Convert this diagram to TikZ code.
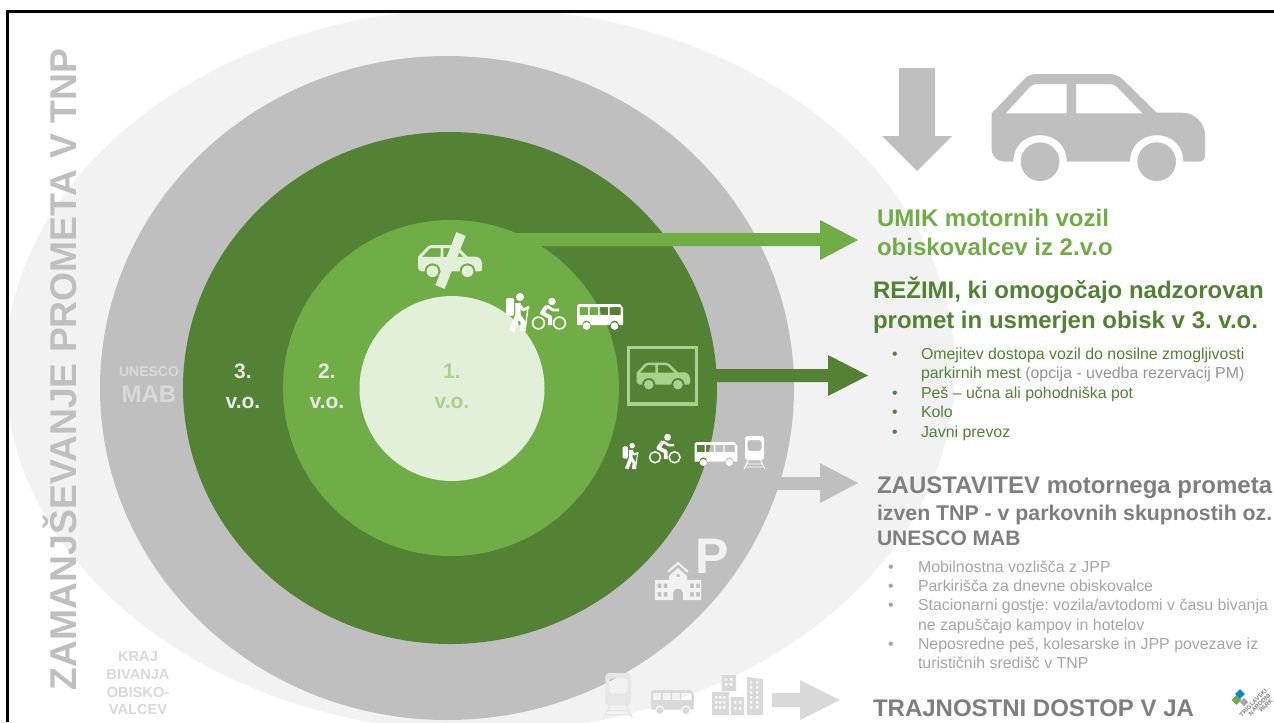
\documentclass[tikz,border=0pt]{standalone}
\usepackage{fontspec}
\setmainfont{Liberation Sans}
\frenchspacing
\definecolor{gdark}{HTML}{548235}
\definecolor{gmid}{HTML}{70AD47}
\definecolor{glight}{HTML}{E2F0D9}
\definecolor{gsoft}{HTML}{A9D18E}
\definecolor{grayring}{HTML}{BFBFBF}
\definecolor{graypale}{HTML}{F2F2F2}
\definecolor{grayicon}{HTML}{D9D9D9}
\definecolor{graylabel}{HTML}{E7E6E6}
\definecolor{graytext}{HTML}{7F7F7F}
\definecolor{graybul}{HTML}{A6A6A6}
\newcommand{\px}[1]{\fontsize{\dimexpr #1pt*3/4\relax}{\dimexpr #1pt*9/10\relax}\selectfont}
\tikzset{
  lbl/.style={inner sep=0pt,outer sep=0pt,anchor=base west},
  ctr/.style={inner sep=0pt,outer sep=0pt,anchor=base,align=center},
  hd/.style={lbl,font=\bfseries},
}
\newcommand{\mycar}[3]{\begin{scope}[shift={(#1)},scale=#2/3]
 \fill[#3,even odd rule]
  (0,118)--(100,13) .. controls (110,4) and (120,0) .. (135,0)--(350,0) .. controls (365,0) and (380,4) .. (392,15)--(495,116)--(570,116) .. controls (612,116) and (640,150) .. (640,183)--(640,245) .. controls (640,258) and (630,263) .. (618,263)--(575,263)
  .. controls (575,157) and (415,157) .. (415,263)--(225,263) .. controls (225,157) and (65,157) .. (65,263)--(40,263) .. controls (15,263) and (0,245) .. (0,228)--cycle
  (42,118)--(115,38) .. controls (122,32) and (128,30) .. (135,30)--(225,30)--(225,118)--cycle
  (253,30)--(350,30) .. controls (360,30) and (368,32) .. (375,38)--(453,118)--(253,118)--cycle;
 \fill[#3] (145,263) circle[radius=58] (495,263) circle[radius=58];
\end{scope}}
\newcommand{\mybus}[3]{\begin{scope}[shift={(#1)},scale=#2]
 \fill[#3,even odd rule]
  (0,21)--(0,2)--(2,0)--(43,0)--(46,4)--(46,21)--(42,21) .. controls (42,15) and (33,15) .. (33,21)--(14,21) .. controls (14,15) and (5,15) .. (5,21)--cycle
  (2.5,3) rectangle (11,11) (12.5,3) rectangle (21,11) (22.5,3) rectangle (31,11) (32.5,3) rectangle (43.5,11);
 \fill[#3] (9.5,22) circle[radius=3.8] (37.5,22) circle[radius=3.8];
\end{scope}}
\newcommand{\mytrain}[3]{\begin{scope}[shift={(#1)},scale=#2]
 \fill[#3,even odd rule,rounded corners=#2*2pt] (1,0) rectangle (20,24)
  (3.5,4) rectangle (17.5,15);
 \draw[#3,line width=#2*.7pt] (4.5,24)--(0,33) (16.5,24)--(21,33) (2.5,28)--(18.5,28) (1,31)--(20,31);
\end{scope}}
\newcommand{\mybike}[3]{\begin{scope}[shift={(#1)},scale=#2]
 \draw[#3,line width=#2*1.2pt] (6.5,25) circle[radius=5.9] (27.5,25) circle[radius=5.9];
 \fill[#3] (20,3.5) circle[radius=3.7];
 \draw[#3,line width=#2*3pt,line join=round] (15,8)--(10,15)--(18,19)--(18,27);
 \draw[#3,line width=#2*2pt,line join=round] (15,8)--(21,12)--(27,12);
\end{scope}}
\newcommand{\myhiker}[3]{\begin{scope}[shift={(#1)},scale=#2]
 \fill[#3] (15,4) circle[radius=4];
 \fill[#3,rounded corners=#2*1.5pt] (1,5) rectangle (9,23);
 \draw[#3,line width=#2*4pt,line join=round] (13,10)--(13,22)--(7,38);
 \draw[#3,line width=#2*3.4pt,line join=round] (13,22)--(18,29)--(17,38);
 \draw[#3,line width=#2*2pt,line join=round] (14,11)--(18,17)--(24,14);
 \draw[#3,line width=#2*1.1pt] (23,14)--(20,38);
\end{scope}}
\newcommand{\mycity}[3]{\begin{scope}[shift={(#1)},scale=#2]
 \fill[#3,even odd rule] (0,17) rectangle (17,40)
  \foreach \a in {3,7,11}{\foreach \b in {21,26,31}{(\a,\b) rectangle ++(2.4,2.6)}};
 \fill[#3,even odd rule] (9.5,0) rectangle (24,16)
  \foreach \a in {13,18}{\foreach \b in {3,8}{(\a,\b) rectangle ++(2.4,2.6)}};
 \fill[#3,even odd rule] (18.5,22) rectangle (32,40)
  \foreach \a in {22,27}{\foreach \b in {26,32}{(\a,\b) rectangle ++(2.4,2.6)}};
 \fill[#3,even odd rule] (35,2) -- (51,4) -- (51,40) -- (35,40) -- cycle
  \foreach \a in {38,44}{\foreach \b in {6,11,16,21,26,31}{(\a,\b) rectangle ++(2.4,2.6)}};
\end{scope}}
\newcommand{\myschool}[3]{\begin{scope}[shift={(#1)},scale=#2]
 \draw[#3,line width=#2*1.5pt] (13,10)--(23,1)--(33,10);
 \fill[#3,even odd rule] (0,18) -- (14,18) -- (14,14) -- (23,6) -- (32,14) -- (32,18) -- (46,18) -- (46,38) -- (28,38) -- (28,31) .. controls (28,25) and (18,25) .. (18,31) -- (18,38) -- (0,38) -- cycle
  (21.5,12) rectangle (24.5,15)
  \foreach \a in {2.5,8.5,35,41}{\foreach \b in {21.5,30}{(\a,\b) rectangle ++(3.8,4.5)}};
\end{scope}}
\begin{document}
\begin{tikzpicture}[x=.75pt,y=-.75pt]
\useasboundingbox (0,0) rectangle (1274,722);
\fill[white] (0,0) rectangle (1274,722);
\begin{scope}
 \clip (7,11) rectangle (1274,722);
 \fill[graypale] (480,370) ellipse[x radius=475,y radius=362];
\end{scope}
\fill[grayring] (447,388) ellipse[x radius=347,y radius=332];
\fill[gdark] (450,388) ellipse[x radius=267,y radius=256];
\fill[gmid] (451,388) circle[radius=168];
\fill[glight] (452,388.5) circle[radius=92.5];
% arrows
\fill[gmid] (515,233)--(820,233)--(820,220)--(858,240)--(820,260)--(820,246)--(515,246)--cycle;
\fill[gdark] (716,369)--(828,369)--(828,355)--(868,375.5)--(828,396)--(828,382)--(716,382)--cycle;
\fill[grayring] (775,477)--(820,477)--(820,463)--(858,483)--(820,503)--(820,490)--(775,490)--cycle;
\fill[grayicon] (772,693)--(800,693)--(800,680)--(840,700)--(800,720)--(800,707)--(772,707)--cycle;
\fill[grayring] (899,68)--(935,68)--(935,136)--(952,136)--(917,171)--(882,136)--(899,136)--cycle;
% cars
\mycar{991.7,74}{1}{grayring}
\mycar{418,245}{.3}{glight}
\draw[glight,line width=7.5pt] (461,234)--(440,287);
\draw[gsoft,line width=2.6pt] (628.5,347.5) rectangle (696.5,404);
\mycar{636.7,362.7}{.25}{gsoft}
% icons
\myhiker{505,293}{1}{white}
\mybike{532,298}{1}{white}
\mybus{577,304}{1}{white}
\myhiker{622,443}{.68}{white}
\mybike{649,434}{.93}{white}
\mybus{694.5,442}{.93}{white}
\mytrain{744,436}{1}{white}
\myschool{655,562}{1}{graypale}
\mytrain{604,673}{1.35}{graylabel}
\mybus{651,690}{.93}{grayicon}
\mycity{712,675}{1}{grayicon}
% labels in rings
\node[lbl,font=\bfseries\px{37.3},text=grayring,rotate=90] (title) at (76,690) {ZAMANJŠEVANJE PROMETA V TNP};
\node[ctr,font=\bfseries\px{14},text=grayicon] (unesco) at (149,376) {UNESCO};
\node[ctr,font=\bfseries\px{24},text=grayicon] (mab) at (149,402) {MAB};
\node[ctr,font=\bfseries\px{21},text=graylabel] (v3a) at (243,378) {3.};
\node[ctr,font=\bfseries\px{21},text=graylabel] (v3b) at (243,408) {v.o.};
\node[ctr,font=\bfseries\px{21},text=graylabel] (v2a) at (327,378) {2.};
\node[ctr,font=\bfseries\px{21},text=graylabel] (v2b) at (327,408) {v.o.};
\node[ctr,font=\bfseries\px{21},text=gsoft] (v1a) at (452,378) {1.};
\node[ctr,font=\bfseries\px{21},text=gsoft] (v1b) at (452,408) {v.o.};
\node[lbl,font=\bfseries\px{50},text=graypale] (park) at (695,573) {P};
\node[ctr,font=\bfseries\px{14.6},text=grayicon] (k1) at (138,661) {KRAJ};
\node[ctr,font=\bfseries\px{14.6},text=grayicon] (k2) at (138,679) {BIVANJA};
\node[ctr,font=\bfseries\px{14.6},text=grayicon] (k3) at (138,697) {OBISKO-};
\node[ctr,font=\bfseries\px{14.6},text=grayicon] (k4) at (138,714) {VALCEV};
% right texts
\node[hd,font=\bfseries\px{24},text=gmid] (u1) at (877,226) {UMIK motornih vozil};
\node[hd,font=\bfseries\px{24},text=gmid] (u2) at (877,255) {obiskovalcev iz 2.v.o};
\node[hd,font=\bfseries\px{24},text=gdark] (r1) at (873,298) {REŽIMI, ki omogočajo nadzorovan};
\node[hd,font=\bfseries\px{24},text=gdark] (r2) at (873,328) {promet in usmerjen obisk v 3. v.o.};
\foreach \n/\y in {a/359,b/398,c/417,d/437}{\node[lbl,font=\px{15.9},text=gdark] (bu\n) at (892,\y) {•};}
\node[lbl,font=\px{15.9},text=gdark] (t1) at (921,359) {Omejitev dostopa vozil do nosilne zmogljivosti};
\node[lbl,font=\px{15.9},text=gdark] (t2) at (921,378) {parkirnih mest \textcolor{graybul!90!black}{(opcija - uvedba rezervacij PM)}};
\node[lbl,font=\px{15.9},text=gdark] (t3) at (921,398) {Peš – učna ali pohodniška pot};
\node[lbl,font=\px{15.9},text=gdark] (t4) at (921,417) {Kolo};
\node[lbl,font=\px{15.9},text=gdark] (t5) at (921,437) {Javni prevoz};
\node[hd,font=\bfseries\px{24},text=graytext] (z1) at (877,493) {ZAUSTAVITEV motornega prometa};
\node[hd,font=\bfseries\px{21.3},text=graytext] (z2) at (877,520) {izven TNP - v parkovnih skupnostih oz.};
\node[hd,font=\bfseries\px{21},text=graytext] (z3) at (877,545) {UNESCO MAB};
\foreach \n/\y in {a/572,b/591,c/610,d/649}{\node[lbl,font=\px{15.9},text=graybul] (bv\n) at (888,\y) {•};}
\node[lbl,font=\px{15.9},text=graybul] (s1) at (918,572) {Mobilnostna vozlišča z JPP};
\node[lbl,font=\px{15.9},text=graybul] (s2) at (918,591) {Parkirišča za dnevne obiskovalce};
\node[lbl,font=\px{15.9},text=graybul] (s3) at (918,610) {Stacionarni gostje: vozila/avtodomi v času bivanja};
\node[lbl,font=\px{15.9},text=graybul] (s4) at (918,630) {ne zapuščajo kampov in hotelov};
\node[lbl,font=\px{15.9},text=graybul] (s5) at (918,649) {Neposredne peš, kolesarske in JPP povezave iz};
\node[lbl,font=\px{15.9},text=graybul] (s6) at (918,668) {turističnih središč v TNP};
\node[hd,font=\bfseries\px{24},text=graytext] (tr) at (873,716) {TRAJNOSTNI DOSTOP V JA};
% logo
\fill[gmid,rotate around={45:(1236.5,700)}] (1233,696.5) rectangle (1240,703.5);
\fill[cyan!70!blue,rotate around={45:(1240,694)}] (1236.5,690.5) rectangle (1243.5,697.5);
\fill[graybul,rotate around={45:(1244,702)}] (1241,699) rectangle (1247,705);
\node[inner sep=0pt,anchor=base east,font=\bfseries\px{6},text=graytext,rotate=45] (lg1) at (1267.5,691.5) {TRIGLAVSKI};
\node[inner sep=0pt,anchor=base east,font=\bfseries\px{6},text=graytext,rotate=45] (lg2) at (1271,696) {NARODNI};
\node[inner sep=0pt,anchor=base east,font=\bfseries\px{6},text=graytext,rotate=45] (lg3) at (1273.5,701) {PARK};
% frame
\draw[black,line width=2.2pt] (7.5,722)--(7.5,11.5)--(1274,11.5);
\end{tikzpicture}
\end{document}
